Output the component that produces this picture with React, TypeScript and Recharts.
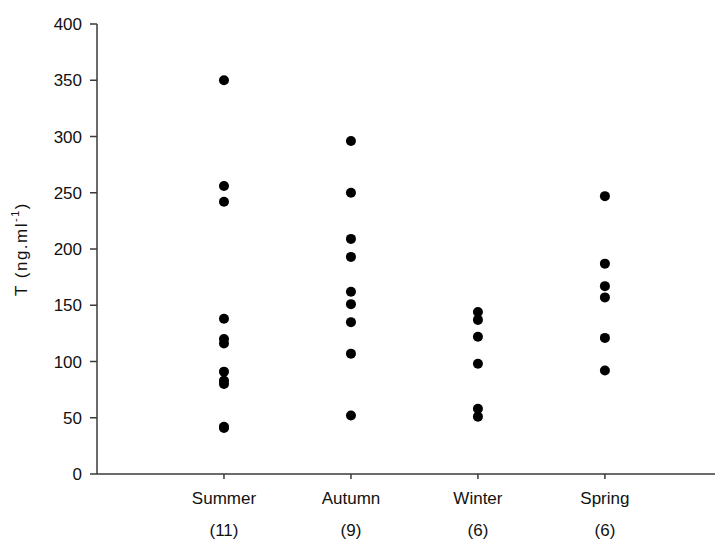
import React from "react";
import { ScatterChart, Scatter, XAxis, YAxis } from "recharts";

// seasons along the x axis, with the sample count shown under each name
const seasons = ["Summer", "Autumn", "Winter", "Spring"];
const counts = [11, 9, 6, 6];

// testosterone values per season (ng/ml)
const summer = [350, 256, 242, 138, 120, 116, 91, 83, 80, 42, 41];
const autumn = [296, 250, 209, 193, 162, 151, 135, 107, 52];
const winter = [144, 137, 122, 98, 58, 51];
const spring = [247, 187, 167, 157, 121, 92];

const yTicks = [0, 50, 100, 150, 200, 250, 300, 350, 400];

const FONT = "'Liberation Sans', Arial, sans-serif";
const AXIS = "#3a3a3a";

const points = [summer, autumn, winter, spring].flatMap((vals, i) =>
    vals.map((v) => ({ x: i + 1, y: v }))
);

function SeasonTick(props: any) {
    const { x, y, payload } = props;
    const i = payload.value - 1;
    return (
        <g fontFamily={FONT} fontSize={17} fill="#111">
            <text x={x} y={y + 23} textAnchor="middle" fill="#111">
                {seasons[i]}
            </text>
            <text x={x} y={y + 55} textAnchor="middle" fill="#111">
                ({counts[i]})
            </text>
        </g>
    );
}

function Dot(props: any) {
    const { cx, cy } = props;
    return <circle cx={cx} cy={cy} r={5} fill="#000" />;
}

function YTitle(props: any) {
    const { viewBox } = props;
    const cx = viewBox.x + 13;
    const cy = viewBox.y + viewBox.height / 2;
    return (
        <text
            x={cx}
            y={cy}
            transform={`rotate(-90, ${cx}, ${cy})`}
            textAnchor="middle"
            dominantBaseline="central"
            fontFamily={FONT}
            fontSize={17}
            letterSpacing={1.5}
            fill="#111"
        >
            T (ng.ml
            <tspan fontSize={11} dy={-6}>
                -1
            </tspan>
            <tspan dy={6}>)</tspan>
        </text>
    );
}

export default function App() {
    return (
        <div style={{ width: 715, height: 533 }}>
            <ScatterChart
                width={715}
                height={533}
                margin={{ top: 16, right: 0, bottom: 0, left: 0 }}
            >
                <XAxis
                    type="number"
                    dataKey="x"
                    domain={[0, 4.93]}
                    ticks={[1, 2, 3, 4]}
                    interval={0}
                    height={67}
                    tickSize={5}
                    tick={<SeasonTick />}
                    stroke={AXIS}
                    strokeWidth={1.5}
                    allowDataOverflow
                />
                <YAxis
                    type="number"
                    dataKey="y"
                    domain={[0, 400]}
                    ticks={yTicks}
                    interval={0}
                    width={89}
                    tickSize={7}
                    tickMargin={8}
                    stroke={AXIS}
                    strokeWidth={1.5}
                    tick={{ fontFamily: FONT, fontSize: 17, fill: "#111" }}
                    label={<YTitle />}
                />
                <Scatter
                    data={points}
                    shape={<Dot />}
                    isAnimationActive={false}
                />
            </ScatterChart>
        </div>
    );
}
